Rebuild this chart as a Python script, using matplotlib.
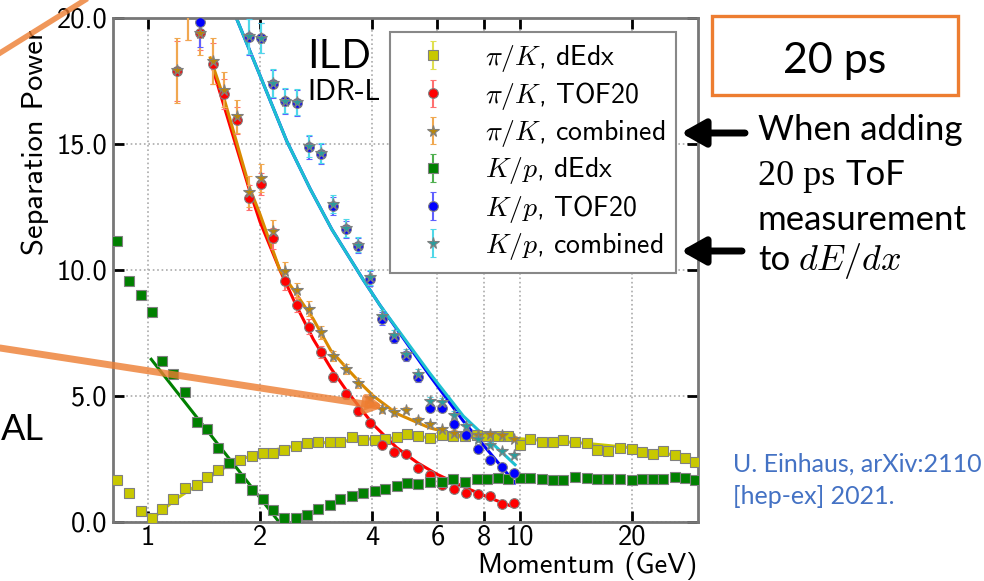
import numpy as np
import matplotlib
matplotlib.use("Agg")
from matplotlib import pyplot as plt
from matplotlib.patches import Rectangle, FancyArrowPatch
from matplotlib.lines import Line2D

plt.rcParams["font.family"] = "cmss10"
plt.rcParams["mathtext.fontset"] = "cm"
plt.rcParams["axes.unicode_minus"] = False

nan = np.nan

# dE/dx momentum bins (GeV)
p_dedx = [0.825, 0.889, 0.958, 1.023, 1.089, 1.170, 1.257, 1.352, 1.443, 1.545,
          1.651, 1.768, 1.900, 2.034, 2.172, 2.325, 2.495, 2.671, 2.864, 3.085,
          3.282, 3.535, 3.784, 4.076, 4.336, 4.671, 4.969, 5.319, 5.730, 6.170,
          6.606, 7.115, 7.662, 8.152, 8.728, 9.284, 10.0, 10.64, 11.46, 12.27,
          13.05, 14.05, 15.14, 16.11, 17.24, 18.57, 20.0, 21.28, 22.78, 24.23,
          26.11, 27.77, 29.54]
pik_dedx = [1.67, 1.15, 0.44, 0.14, 0.52, 0.92, 1.35, 1.47, 1.79, 2.07,
            2.35, 2.47, 2.63, 2.75, 2.75, 2.85, 3.01, 3.15, 3.19, 3.17,
            3.18, 3.35, 3.27, 3.25, 3.30, 3.37, 3.47, 3.39, 3.32, 3.43,
            3.39, 3.39, 3.43, 3.39, 3.39, 3.39, 3.07, 3.31, 3.19, 3.19,
            3.27, 3.19, 3.15, 2.87, 2.83, 2.95, 2.91, 2.79, 2.71, 2.83,
            2.67, 2.55, 2.39]
kp_dedx = [11.15, 9.56, 9.00, 8.33, 6.37, 5.86, 5.14, 3.98, 3.70, 2.95,
           2.35, 1.75, 1.27, 0.92, 0.48, 0.16, 0.14, 0.26, 0.50, 0.66,
           0.90, 1.02, 1.15, 1.22, 1.30, 1.43, 1.53, 1.51, 1.57, 1.59,
           1.71, 1.59, 1.71, 1.71, 1.75, 1.71, 1.75, 1.75, 1.71, 1.67,
           1.67, 1.79, 1.75, 1.71, 1.71, 1.71, 1.67, 1.69, 1.69, 1.71,
           1.79, 1.75, 1.67]

# TOF / combined momentum bins (GeV)
p_tof = [1.194, 1.281, 1.380, 1.492, 1.604, 1.731, 1.868, 2.013, 2.164, 2.335,
         2.510, 2.714, 2.918, 3.149, 3.406, 3.662, 3.952, 4.249, 4.594, 4.938,
         5.309, 5.730, 6.161, 6.646, 7.157, 7.726, 8.307, 8.930, 9.654]
pik_tof = [17.88, 20.8, 19.4, 18.17, 16.97, 15.92, 12.86, 13.4, 11.24, 9.55,
           8.62, 7.74, 6.74, 5.76, 5.09, 4.39, 3.93, 3.04, 2.77, 2.71,
           2.14, 1.86, 1.47, 1.30, 1.14, 1.10, 1.04, 0.72, 0.74]
pik_tof_err = [1.2, 1.7, 0.7, 0.8, 0.6, 0.55, 0.5, 0.45, 0.4, 0.35,
               0.3, 0.3, 0.25, 0.2, 0.2, 0.2, 0.15, 0.15, 0.15, 0.12,
               0.12, 0.1, 0.1, 0.1, 0.08, 0.08, 0.08, 0.08, 0.08]
pik_comb = [17.9, 20.8, 19.4, 18.27, 17.14, 16.08, 13.1, 13.65, 11.53, 9.97,
            9.18, 8.45, 7.52, 6.59, 6.06, 5.50, 4.93, 4.48, 4.36, 4.44,
            4.03, 3.87, 3.67, 3.53, 3.47, 3.43, 3.47, 3.44, 3.31]
pik_comb_err = [1.3, 1.7, 0.9, 0.9, 0.7, 0.65, 0.6, 0.55, 0.45, 0.35,
                0.3, 0.3, 0.25, 0.2, 0.2, 0.2, 0.15, 0.15, 0.15, 0.12,
                0.12, 0.1, 0.1, 0.1, 0.1, 0.1, 0.1, 0.1, 0.1]
kp_tof = [nan, nan, 19.84, nan, nan, nan, 19.23, 19.18, 17.37, 16.68,
          16.61, 14.85, 14.59, 12.54, 11.60, 10.95, 9.64, 8.06, 7.30, 6.57,
          5.76, 4.53, 4.53, 3.90, 3.44, 2.91, 2.47, 2.18, 1.96]
kp_tof_err = [nan, nan, 1.0, nan, nan, nan, 0.7, 0.6, 0.55, 0.5,
              0.5, 0.45, 0.4, 0.35, 0.35, 0.3, 0.3, 0.25, 0.2, 0.2,
              0.2, 0.15, 0.15, 0.15, 0.12, 0.12, 0.1, 0.1, 0.1]
kp_comb = [nan, nan, nan, nan, nan, nan, 19.25, 19.2, 17.4, 16.7,
           16.65, 14.9, 14.62, 12.6, 11.65, 11.0, 9.70, 8.15, 7.40, 6.65,
           5.85, 4.80, 4.75, 4.26, 3.80, 3.31, 3.07, 2.80, 2.64]

# fitted curves
fit_pik_dedx_p = [1.0, 1.1, 1.2, 1.35, 1.5, 1.7, 2.0, 2.5, 3.0, 4.0, 6.0, 8.0, 10.0, 15.0, 20.0, 25.0, 30.0]
fit_pik_dedx = [0.0, 0.5, 0.95, 1.45, 1.88, 2.38, 2.75, 3.02, 3.15, 3.3, 3.38, 3.36, 3.3, 3.12, 2.94, 2.7, 2.42]
fit_kp_dedx_p = [1.02, 2.25]
fit_kp_dedx = [6.45, 0.0]
fit_pik_tof_p = [1.47, 1.6, 1.87, 2.0, 2.26, 2.5, 2.78, 3.1, 3.42, 4.04, 4.66, 5.3, 5.97, 7.04, 8.3, 9.6]
fit_pik_tof = [18.3, 16.5, 13.2, 11.9, 10.0, 8.6, 7.25, 6.1, 5.2, 3.85, 2.95, 2.35, 1.9, 1.4, 0.95, 0.6]
fit_pik_comb_p = [1.47, 1.6, 1.88, 2.0, 2.26, 2.78, 3.1, 3.42, 3.79, 4.04, 4.66, 5.72, 7.04, 8.3, 9.7]
fit_pik_comb = [18.4, 16.8, 13.2, 12.2, 10.0, 8.05, 6.8, 6.1, 5.39, 4.99, 4.3, 3.73, 3.4, 3.3, 3.27]
fit_kp_p = [1.725, 2.0, 2.36, 2.73, 3.12, 3.79, 4.2, 5.72, 7.04, 9.7]
fit_kp_tof = [20.0, 17.7, 15.1, 13.2, 11.6, 9.6, 8.6, 5.8, 4.0, 1.55]
fit_kp_comb = [20.0, 17.7, 15.1, 13.2, 11.6, 9.6, 8.6, 5.9, 4.2, 2.27]

W, H = 984, 581
def fx(px):
    return px / W
def fy(py):
    return 1 - py / H

fig = plt.figure(figsize=(9.84, 5.81), dpi=100)
ax = fig.add_axes([fx(113), fy(522), 585 / W, 504.5 / H])

# fit lines
ax.plot(fit_pik_dedx_p, fit_pik_dedx, color="#c8c800", lw=2.2, zorder=2)
ax.plot(fit_kp_dedx_p, fit_kp_dedx, color="#008000", lw=2.2, zorder=2)
ax.plot(fit_pik_tof_p, fit_pik_tof, color="#ff0000", lw=2.2, zorder=2)
ax.plot(fit_pik_comb_p, fit_pik_comb, color="#d98a00", lw=2.2, zorder=2)
ax.plot(fit_kp_p, fit_kp_tof, color="#0000ff", lw=2.2, zorder=2)
ax.plot(fit_kp_p, fit_kp_comb, color="#1ec0d0", lw=2.2, zorder=2)

common = dict(ls="none", mec="#808080", mew=0.8, elinewidth=1.5, capsize=2.5, zorder=3)
ax.errorbar(p_dedx, pik_dedx, yerr=0.15, fmt="s", ms=6.5, color="#c8c800",
            ecolor="#e0e050", label=r"$\pi/K$, dEdx", **common)
ax.errorbar(p_tof, pik_tof, yerr=pik_tof_err, fmt="o", ms=7, color="#ff0000",
            ecolor="#ff7070", label=r"$\pi/K$, TOF20", **common)
ax.errorbar(p_tof, pik_comb, yerr=pik_comb_err, fmt="*", ms=8.5, color="#b8860b",
            ecolor="#f0a850", label=r"$\pi/K$, combined", **common)
ax.errorbar(p_dedx, kp_dedx, yerr=0.15, fmt="s", ms=6.5, color="#008000",
            ecolor="#50b050", label=r"$K/p$, dEdx", **common)
ax.errorbar(p_tof, kp_tof, yerr=kp_tof_err, fmt="o", ms=7, color="#0000ff",
            ecolor="#6060ff", label=r"$K/p$, TOF20", **common)
ax.errorbar(p_tof, kp_comb, yerr=kp_tof_err, fmt="*", ms=8.5, color="#2a9d9d",
            ecolor="#50d8e8", label=r"$K/p$, combined", **common)

ax.set_xscale("log")
ax.set_xlim(0.805, 30.1)
ax.set_ylim(0, 20)
xt = [1, 2, 4, 6, 8, 10, 20]
ax.set_xticks(xt)
ax.set_xticklabels([str(v) for v in xt])
ax.xaxis.set_minor_locator(matplotlib.ticker.NullLocator())
yt = [0, 5, 10, 15, 20]
ax.set_yticks(yt)
ax.set_yticklabels(["%.1f" % v for v in yt])
ax.tick_params(direction="in", length=8, width=2, top=True, right=True,
               labelsize=20.5, colors="black")
ax.tick_params(axis="x", pad=2)
ax.tick_params(axis="y", pad=4)
ax.grid(True, ls=":", color="#aaaaaa", lw=1.2)
for s in ax.spines.values():
    s.set_color("#777777")
    s.set_linewidth(2)

leg = ax.legend(loc="upper left", bbox_to_anchor=(0.4735, 0.9713), fontsize=20,
                frameon=True, fancybox=False, framealpha=1, edgecolor="#888888",
                borderpad=0.4, labelspacing=0.22, handlelength=2.3,
                handletextpad=0.72, borderaxespad=0)
leg.get_frame().set_linewidth(1.5)
leg.set_zorder(10)

fig.text(fx(307), fy(68), "ILD", fontsize=30, ha="left", va="baseline")
fig.text(fx(307), fy(100), "IDR-L", fontsize=21, ha="left", va="baseline")
fig.text(fx(35), fy(142), "Separation Power", fontsize=22, rotation=90,
         ha="center", va="center")
fig.text(fx(697), fy(573), "Momentum (GeV)", fontsize=20.5, ha="right", va="baseline")

# slide annotations
slide = "Lato"
fig.add_artist(Rectangle((fx(712), fy(95)), 246 / W, 79 / H, transform=fig.transFigure,
                         fill=True, facecolor="white", edgecolor="#ED7D31", lw=2.4))
fig.text(fx(835), fy(73), "20 ps", fontsize=31, family=slide, ha="center", va="baseline")
fig.text(fx(758), fy(140), "When adding", fontsize=25, family=slide, va="baseline")
fig.text(fx(758), fy(185), "20 ps", fontsize=26, family="Liberation Serif", va="baseline")
fig.text(fx(846), fy(185), "ToF", fontsize=25, family=slide, va="baseline")
fig.text(fx(758), fy(230), "measurement", fontsize=25, family=slide, va="baseline")
fig.text(fx(758), fy(270), "to", fontsize=25, family=slide, va="baseline")
fig.text(fx(798), fy(270), r"$dE/dx$", fontsize=26, va="baseline")
fig.text(fx(733), fy(472), "U. Einhaus, arXiv:2110", fontsize=18, family=slide,
         color="#4472C4", va="baseline")
fig.text(fx(733), fy(504), "[hep-ex] 2021.", fontsize=18, family=slide,
         color="#4472C4", va="baseline")
fig.text(fx(1), fy(440), "AL", fontsize=26, family=slide, ha="left", va="baseline")

for yy, x0 in [(133, 745), (251, 742)]:
    fig.add_artist(FancyArrowPatch((fx(x0), fy(yy)), (fx(681), fy(yy)),
                                   transform=fig.transFigure,
                                   arrowstyle="-|>,head_length=0.8,head_width=0.45",
                                   mutation_scale=18, lw=5, color="black",
                                   shrinkA=0, shrinkB=0, zorder=20))

fig.add_artist(Line2D([fx(0), fx(85)], [fy(53), fy(0)], transform=fig.transFigure,
                      color="#ED7D31", alpha=0.8, lw=4, zorder=20))
fig.add_artist(FancyArrowPatch((fx(0), fy(348)), (fx(384), fy(407)),
                               transform=fig.transFigure,
                               arrowstyle="-|>,head_length=0.55,head_width=0.3",
                               mutation_scale=16, lw=5, color="#ED7D31", alpha=0.8,
                               shrinkA=0, shrinkB=0, zorder=20))

plt.savefig("out.png", dpi=100)
plt.close()
